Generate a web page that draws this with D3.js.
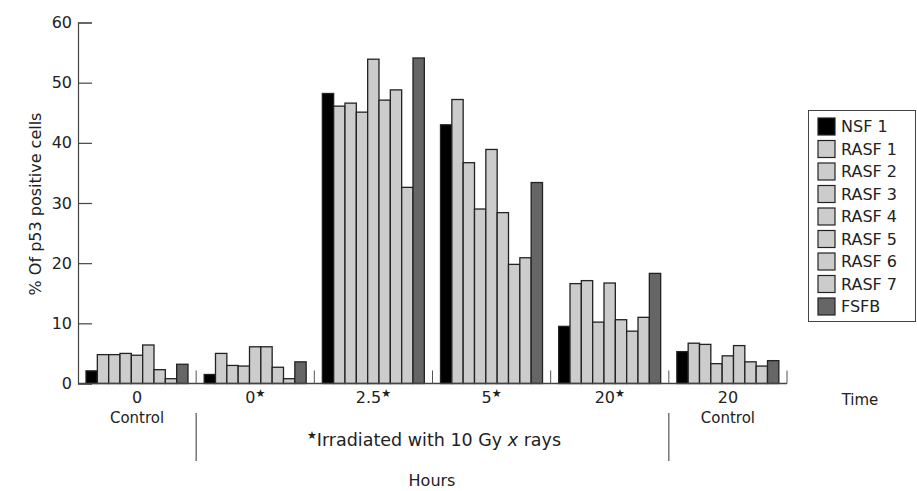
<!DOCTYPE html>
<html>
<head>
<meta charset="utf-8">
<script src="https://cdn.jsdelivr.net/npm/d3@7"></script>
<style>
  body { margin: 0; background: #fff; }
  svg { display: block; font-family: "DejaVu Sans", sans-serif; }
</style>
</head>
<body>
<div id="chart"></div>
<script>
// groups along the time axis
const groups = ["0", "0*", "2.5*", "5*", "20*", "20"];
const series = ["NSF 1", "RASF 1", "RASF 2", "RASF 3", "RASF 4", "RASF 5", "RASF 6", "RASF 7", "FSFB"];

// % of p53 positive cells, one row per group, one value per series
const vals0 = [2.1, 4.8, 4.8, 5.0, 4.7, 6.4, 2.3, 0.8, 3.2];
const vals0s = [1.5, 5.0, 3.0, 2.9, 6.1, 6.1, 2.7, 0.8, 3.6];
const vals25s = [48.2, 46.1, 46.6, 45.1, 53.9, 47.1, 48.8, 32.6, 54.1];
const vals5s = [43.0, 47.2, 36.7, 29.0, 38.9, 28.4, 19.8, 20.9, 33.4];
const vals20s = [9.5, 16.6, 17.1, 10.2, 16.7, 10.6, 8.7, 11.0, 18.3];
const vals20 = [5.3, 6.7, 6.5, 3.3, 4.6, 6.3, 3.6, 2.9, 3.8];
const allVals = [vals0, vals0s, vals25s, vals5s, vals20s, vals20];

const yTicks = [0, 10, 20, 30, 40, 50, 60];
const seriesColors = ["#000000", "#cccccc", "#cccccc", "#cccccc", "#cccccc", "#cccccc", "#cccccc", "#cccccc", "#666666"];

const w = 917, h = 491;
const svg = d3.select("#chart").append("svg").attr("width", w).attr("height", h);

const x0 = d3.scaleBand().domain(groups).range([78, 787]).padding(0);
const x1 = d3.scaleBand().domain(series).range([8, 110]).padding(0);
const y = d3.scaleLinear().domain([0, 60]).range([383.5, 22.5]);
const color = d3.scaleOrdinal().domain(series).range(seriesColors);

// bars
const g = svg.append("g");
groups.forEach((grp, gi) => {
	g.append("g")
		.attr("transform", "translate(" + x0(grp) + ",0)")
		.selectAll("rect")
		.data(allVals[gi].map((v, i) => ({ s: series[i], v: v })))
		.enter().append("rect")
		.attr("x", (d) => x1(d.s))
		.attr("width", x1.bandwidth())
		.attr("y", (d) => y(d.v))
		.attr("height", (d) => y(0) - y(d.v))
		.attr("fill", (d) => color(d.s))
		.attr("stroke", "#222")
		.attr("stroke-width", 1.3);
});

// y axis, ticks point inward
const yAxis = svg.append("g").attr("transform", "translate(78,0)")
	.call(d3.axisRight(y).tickValues(yTicks).tickSize(14).tickFormat(""));
yAxis.select(".domain").attr("stroke", "#444").attr("stroke-width", 1.2);
yAxis.selectAll(".tick line").attr("stroke", "#444").attr("stroke-width", 1.2);

svg.selectAll(".ylab").data(yTicks).enter().append("text")
	.attr("class", "ylab")
	.attr("x", 72).attr("y", (d) => y(d))
	.attr("text-anchor", "end").attr("dy", "0.35em")
	.attr("font-size", 16).attr("fill", "#222")
	.text((d) => d);

svg.append("text")
	.attr("transform", "translate(41," + 204 + ") rotate(-90)")
	.attr("text-anchor", "middle")
	.attr("font-size", 16).attr("fill", "#222")
	.text("% Of p53 positive cells");

// x axis line and group separators
svg.append("line")
	.attr("x1", 78).attr("x2", 787).attr("y1", y(0)).attr("y2", y(0))
	.attr("stroke", "#444").attr("stroke-width", 1.4);

svg.selectAll(".sep").data(groups).enter().append("line")
	.attr("x1", (d) => x0(d) + x0.bandwidth()).attr("x2", (d) => x0(d) + x0.bandwidth())
	.attr("y1", y(0)).attr("y2", y(0) - 13)
	.attr("stroke", "#555").attr("stroke-width", 1);

// group labels with superscript stars
svg.selectAll(".glab").data(groups).enter().append("text")
	.attr("class", "glab")
	.attr("x", (d) => x0(d) + x0.bandwidth() / 2)
	.attr("y", 403)
	.attr("text-anchor", "middle")
	.attr("font-size", 16).attr("fill", "#222")
	.each(function(d) {
		const t = d3.select(this);
		const base = d.replace("*", "");
		t.append("tspan").text(base);
		if (d.indexOf("*") > -1) {
			t.append("tspan").attr("dy", -6).attr("font-size", 11).text("★");
		}
	});

svg.append("text")
	.attr("x", 860).attr("y", 405).attr("text-anchor", "middle")
	.attr("font-size", 15).attr("fill", "#222").text("Time");

svg.selectAll(".ctl").data(["0", "20"]).enter().append("text")
	.attr("x", (d) => x0(d) + x0.bandwidth() / 2)
	.attr("y", 423).attr("text-anchor", "middle")
	.attr("font-size", 15).attr("fill", "#222").text("Control");

svg.selectAll(".vsep").data(["0", "20*"]).enter().append("line")
	.attr("x1", (d) => x0(d) + x0.bandwidth()).attr("x2", (d) => x0(d) + x0.bandwidth())
	.attr("y1", 413).attr("y2", 461)
	.attr("stroke", "#555").attr("stroke-width", 1.2);

const irr = svg.append("text")
	.attr("x", 434).attr("y", 446).attr("text-anchor", "middle")
	.attr("font-size", 17.5).attr("fill", "#222");
irr.append("tspan").attr("font-size", 11).attr("dy", -7).text("★");
irr.append("tspan").attr("dy", 7).text("Irradiated with 10 Gy ");
irr.append("tspan").attr("font-style", "italic").text("x");
irr.append("tspan").text(" rays");

svg.append("text")
	.attr("x", 432).attr("y", 486).attr("text-anchor", "middle")
	.attr("font-size", 16).attr("fill", "#222").text("Hours");

// legend
const legend = svg.append("g");
legend.append("rect")
	.attr("x", 808.5).attr("y", 110.5).attr("width", 107).attr("height", 211)
	.attr("fill", "#fff").attr("stroke", "#444").attr("stroke-width", 1);

const items = legend.selectAll(".item").data(series).enter().append("g")
	.attr("transform", (d, i) => "translate(818," + (118 + i * 22.5) + ")");
items.append("rect")
	.attr("width", 17).attr("height", 17)
	.attr("fill", (d) => color(d))
	.attr("stroke", "#222").attr("stroke-width", 1.2);
items.append("text")
	.attr("x", 23).attr("y", 8.5).attr("dy", "0.35em")
	.attr("font-size", 16).attr("fill", "#222")
	.text((d) => d);
</script>
</body>
</html>
